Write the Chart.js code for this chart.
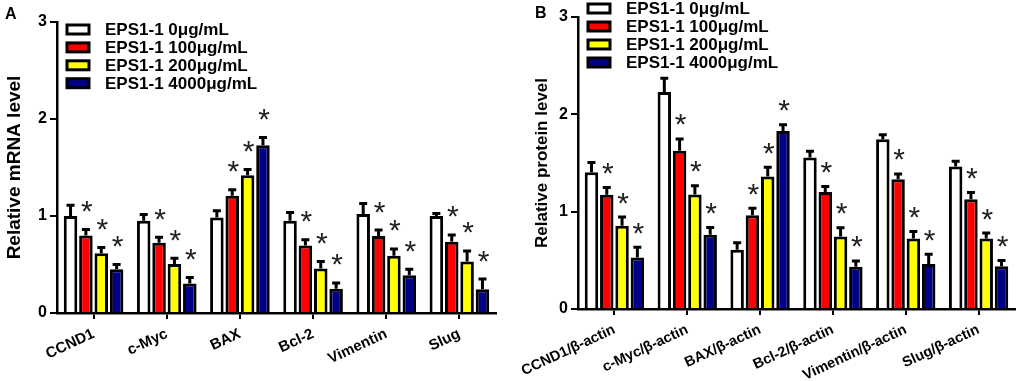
<!DOCTYPE html>
<html>
<head>
<meta charset="utf-8">
<script src="https://cdn.jsdelivr.net/npm/chart.js@4.4.1/dist/chart.umd.min.js"></script>
<style>
    body { margin: 0; background: #fff; width: 1021px; height: 381px; overflow: hidden; position: relative; font-family: 'Liberation Sans', Arial, sans-serif; }
    .panel { position: absolute; top: 0; height: 381px; }
    #wrapA { left: 0; width: 510px; }
    #wrapB { left: 510px; width: 511px; }
    .tag { position: absolute; font: bold 16px 'Liberation Sans', Arial, sans-serif; color: #000; }
</style>
</head>
<body>
<div class="panel" id="wrapA"><canvas id="chartA" width="510" height="381"></canvas></div>
<div class="panel" id="wrapB"><canvas id="chartB" width="511" height="381"></canvas></div>
<div class="tag" style="left:5px;top:5px">A</div>
<div class="tag" style="left:535px;top:4px">B</div>
<script>
const seriesNames = ['EPS1-1 0μg/mL', 'EPS1-1 100μg/mL', 'EPS1-1 200μg/mL', 'EPS1-1 4000μg/mL'];
const seriesColors = ['#ffffff', '#ff0000', '#ffff00', '#000088'];

const genesA = ['CCND1', 'c-Myc', 'BAX', 'Bcl-2', 'Vimentin', 'Slug'];
const genesB = ['CCND1/β-actin', 'c-Myc/β-actin', 'BAX/β-actin', 'Bcl-2/β-actin', 'Vimentin/β-actin', 'Slug/β-actin'];
const yTicks = [0, 1, 2, 3];

// A: relative mRNA level
const mrna0 = [1.00, 0.95, 0.985, 0.95, 1.02, 1.00];
const mrna100 = [0.80, 0.725, 1.21, 0.695, 0.795, 0.735];
const mrna200 = [0.615, 0.505, 1.42, 0.46, 0.59, 0.53];
const mrna4000 = [0.45, 0.305, 1.73, 0.25, 0.39, 0.245];
const mrnaErr0 = [0.11, 0.065, 0.07, 0.085, 0.11, 0.025];
const mrnaErr100 = [0.06, 0.055, 0.06, 0.06, 0.06, 0.07];
const mrnaErr200 = [0.06, 0.06, 0.06, 0.07, 0.07, 0.11];
const mrnaErr4000 = [0.05, 0.06, 0.08, 0.06, 0.06, 0.105];

// B: relative protein level
const prot0 = [1.405, 2.23, 0.61, 1.556, 1.744, 1.463];
const prot100 = [1.173, 1.627, 0.964, 1.203, 1.333, 1.128];
const prot200 = [0.855, 1.176, 1.361, 0.745, 0.725, 0.725];
const prot4000 = [0.53, 0.762, 1.829, 0.434, 0.462, 0.438];
const protErr0 = [0.10, 0.14, 0.07, 0.065, 0.045, 0.055];
const protErr100 = [0.075, 0.12, 0.07, 0.055, 0.055, 0.07];
const protErr200 = [0.09, 0.09, 0.095, 0.09, 0.07, 0.055];
const protErr4000 = [0.105, 0.075, 0.065, 0.06, 0.10, 0.06];

// significance vs control, one flag per series
const starred = [false, true, true, true];

const FONT = "'Liberation Sans', Arial, sans-serif";

// error bars (upper only) + asterisks
const errorBarPlugin = {
    id: 'errorBars',
    afterDatasetsDraw(chart, args, opts) {
        const ctx = chart.ctx;
        const yScale = chart.scales.y;
        ctx.save();
        ctx.strokeStyle = '#000';
        ctx.lineWidth = 3;
        chart.data.datasets.forEach((ds, i) => {
            const meta = chart.getDatasetMeta(i);
            meta.data.forEach((bar, j) => {
                const top = yScale.getPixelForValue(ds.data[j] + ds.errors[j]);
                ctx.beginPath();
                ctx.moveTo(bar.x, bar.y);
                ctx.lineTo(bar.x, top);
                ctx.moveTo(bar.x - 4, top);
                ctx.lineTo(bar.x + 4, top);
                ctx.stroke();
                if (starred[i]) {
                    ctx.font = '30px ' + FONT;
                    ctx.fillStyle = '#222';
                    ctx.textAlign = 'center';
                    ctx.textBaseline = 'alphabetic';
                    const m = ctx.measureText('*');
                    const cy = top - opts.starGap;
                    ctx.fillText('*', bar.x + 1, cy + (m.actualBoundingBoxAscent - m.actualBoundingBoxDescent) / 2);
                }
            });
        });
        ctx.restore();
    }
};

// legend drawn inside the plot area
const boxLegendPlugin = {
    id: 'boxLegend',
    afterDraw(chart, args, opts) {
        const ctx = chart.ctx;
        ctx.save();
        chart.data.datasets.forEach((ds, i) => {
            const y = opts.y + i * opts.step;
            ctx.fillStyle = ds.backgroundColor;
            ctx.fillRect(opts.x, y - 4.5, 22, 9);
            ctx.strokeStyle = '#000';
            ctx.lineWidth = 3;
            ctx.strokeRect(opts.x, y - 4.5, 22, 9);
            ctx.fillStyle = '#000';
            ctx.font = 'bold 17px ' + FONT;
            ctx.textAlign = 'left';
            ctx.textBaseline = 'middle';
            ctx.fillText(ds.label, opts.textX, y + 1);
        });
        ctx.restore();
    }
};

function makeChart(id, labels, values, errors, cfg) {
    const ctx = document.getElementById(id).getContext('2d');
    return new Chart(ctx, {
        type: 'bar',
        data: {
            labels: labels,
            datasets: values.map((v, i) => ({
                label: seriesNames[i],
                data: v,
                errors: errors[i],
                backgroundColor: seriesColors[i],
                borderColor: '#000',
                borderWidth: 3,
                borderSkipped: 'start',
                categoryPercentage: 0.84,
                barPercentage: 0.88
            }))
        },
        options: {
            responsive: false,
            animation: false,
            layout: { padding: cfg.padding },
            scales: {
                x: {
                    afterFit: s => { s.height = cfg.xHeight; },
                    grid: { offset: false, drawOnChartArea: false, drawTicks: true, tickLength: 6, color: '#000', lineWidth: 2 },
                    border: { color: '#000', width: 2.5 },
                    ticks: {
                        color: '#000', padding: 6, maxRotation: 25, minRotation: 25, autoSkip: false,
                        font: { family: FONT, size: cfg.xFont, weight: 'bold' }
                    }
                },
                y: {
                    min: 0, max: 3,
                    afterFit: s => { s.width = cfg.yWidth; },
                    afterBuildTicks: s => { s.ticks = yTicks.map(v => ({ value: v })); },
                    grid: { drawOnChartArea: false, drawTicks: true, tickLength: 7, color: '#000', lineWidth: 2 },
                    border: { color: '#000', width: 2.5 },
                    ticks: { color: '#000', padding: 3, font: { family: FONT, size: 16, weight: 'bold' } },
                    title: {
                        display: true, text: cfg.title, color: '#000',
                        font: { family: FONT, size: cfg.titleSize, weight: 'bold' },
                        padding: { top: 0, bottom: 0 }
                    }
                }
            },
            plugins: {
                legend: { display: false },
                tooltip: { enabled: false },
                errorBars: { starGap: cfg.starGap },
                boxLegend: cfg.legend
            }
        },
        plugins: [errorBarPlugin, boxLegendPlugin]
    });
}

makeChart('chartA', genesA,
    [mrna0, mrna100, mrna200, mrna4000],
    [mrnaErr0, mrnaErr100, mrnaErr200, mrnaErr4000],
    {
        title: 'Relative mRNA level', titleSize: 19, xFont: 15,
        padding: { left: 3, top: 22, right: 14, bottom: 0 },
        yWidth: 54, xHeight: 68, starGap: 23,
        legend: { x: 67, textX: 105, y: 29.5, step: 17.9 }
    });

makeChart('chartB', genesB,
    [prot0, prot100, prot200, prot4000],
    [protErr0, protErr100, protErr200, protErr4000],
    {
        title: 'Relative protein level', titleSize: 17, xFont: 14.5,
        padding: { left: 22, top: 17, right: 6, bottom: 0 },
        yWidth: 46, xHeight: 72, starGap: 19,
        legend: { x: 78, textX: 116, y: 8.5, step: 18 }
    });
</script>
</body>
</html>
